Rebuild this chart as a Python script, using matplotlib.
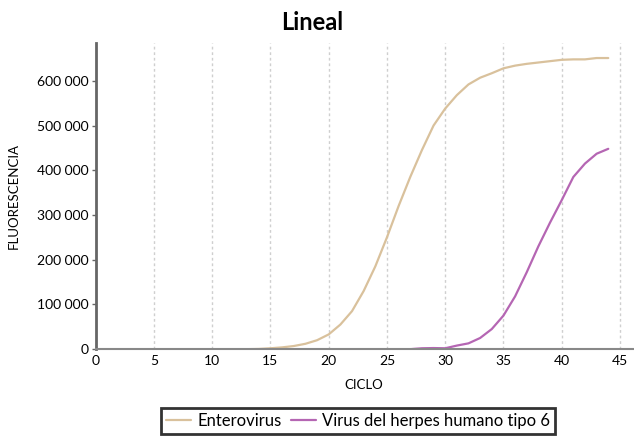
import matplotlib
matplotlib.use("Agg")
import matplotlib.pyplot as plt
from matplotlib.ticker import FuncFormatter

plt.rcParams['font.family'] = ['Lato', 'DejaVu Sans']

cycles = list(range(1, 45))
enterovirus = [0, 0, 0, 0, 0, 0, 0, 0, 0, 0, 0, 0, 0, 500,
               2000, 4000, 7000, 12000, 20000, 33000, 55000, 85000, 130000, 185000,
               250000, 320000, 385000, 445000, 500000, 538000, 568000, 592000, 607000, 617000,
               628000, 634000, 638000, 641000, 644000, 647000, 648000, 648000, 651000, 651000]
hhv6 = [0, 0, 0, 0, 0, 0, 0, 0, 0, 0, 0, 0, 0, 0,
        0, 0, 0, 0, 0, 0, 0, 0, 0, 0,
        0, 0, 0, 2000, 2500, 2000, 8000, 13000, 25000, 45000,
        75000, 118000, 172000, 230000, 283000, 333000, 385000, 415000, 437000, 448000]

series_names = ["Enterovirus", "Virus del herpes humano tipo 6"]
xticks = [0, 5, 10, 15, 20, 25, 30, 35, 40, 45]
yticks = [0, 100000, 200000, 300000, 400000, 500000, 600000]

fig = plt.figure(figsize=(6.34, 4.37), dpi=100)
ax = fig.add_axes([0.151, 0.201, 0.847, 0.701])

ax.plot(cycles, enterovirus, color="#d9c19c", lw=1.6, label=series_names[0], solid_capstyle='round')
ax.plot(cycles, hhv6, color="#b566b3", lw=1.6, label=series_names[1], solid_capstyle='round')

ax.set_xlim(0, 46.1)
ax.set_ylim(0, 685000)
ax.set_xticks(xticks)
ax.set_yticks(yticks)
ax.yaxis.set_major_formatter(FuncFormatter(lambda v, p: f"{int(v):,}".replace(",", " ")))

for x in xticks[1:]:
    ax.axvline(x, color="#cfcfcf", lw=1.0, ls=(0, (2, 2)), zorder=0)

for s in ["top", "right"]:
    ax.spines[s].set_visible(False)
ax.spines["left"].set_color("#666666")
ax.spines["left"].set_linewidth(2.0)
ax.spines["bottom"].set_color("#888888")
ax.spines["bottom"].set_linewidth(1.5)

ax.tick_params(axis="y", length=3, width=1, color="#666666", labelsize=10, pad=2)
ax.tick_params(axis="x", length=0, labelsize=10, pad=4)

ax.set_xlabel("CICLO", fontsize=9.5, labelpad=9)
fig.text(0.022, 0.552, "FLUORESCENCIA", rotation=90, ha="center", va="center", fontsize=9.5)
fig.text(0.492, 0.948, "Lineal", ha="center", va="center", fontsize=17, fontweight="bold")

leg = fig.legend(loc="center", bbox_to_anchor=(0.565, 0.037), ncol=2, frameon=True,
                 fancybox=False, edgecolor="black", fontsize=12, handlelength=1.5,
                 handletextpad=0.4, columnspacing=0.5, borderpad=0.3, borderaxespad=0)
leg.get_frame().set_linewidth(2.0)

fig.savefig("out.png", dpi=100)
